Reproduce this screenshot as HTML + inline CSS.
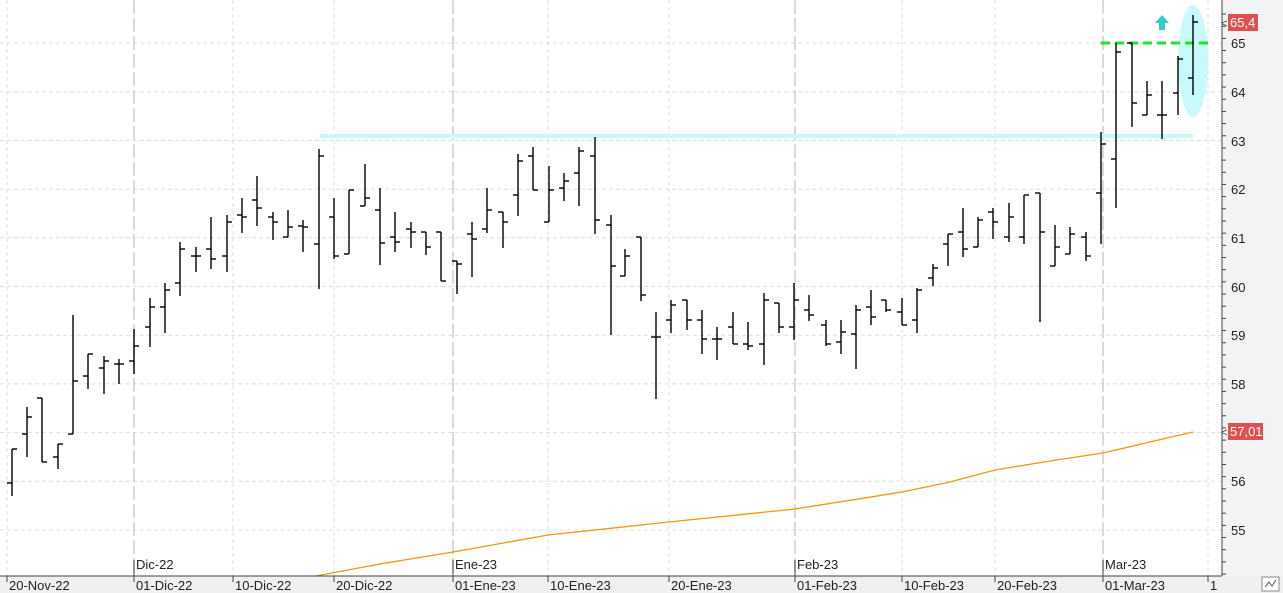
<!DOCTYPE html>
<html><head><meta charset="utf-8"><style>
html,body{margin:0;padding:0;background:#fff;}
svg{display:block;font-family:"Liberation Sans",sans-serif;}
</style></head><body>
<svg id="c" width="1283" height="593" viewBox="0 0 1283 593" xmlns="http://www.w3.org/2000/svg">
<rect x="0" y="0" width="1283" height="593" fill="#fff"/>
<rect x="1222" y="0" width="61" height="593" fill="#f2f3f5"/>
<rect x="0" y="576" width="1283" height="17" fill="#f0f0f0"/>
<g id="grid" stroke="#dcdcdc" stroke-width="1" stroke-dasharray="4,3"></g>
<g stroke="#d0d0d0" stroke-width="1.6" stroke-dasharray="14,4">
<line x1="134" y1="0" x2="134" y2="576"/><line x1="453" y1="0" x2="453" y2="576"/>
<line x1="795" y1="0" x2="795" y2="576"/><line x1="1103" y1="0" x2="1103" y2="576"/>
</g>
<rect x="320" y="134" width="873" height="4" fill="#c8fafc"/>
<ellipse cx="1193" cy="61" rx="15" ry="56" fill="#c8fafc"/>
<line x1="1101" y1="43" x2="1208" y2="43" stroke="#1ee61e" stroke-width="3" stroke-dasharray="9,5"/>
<polygon points="1162,15 1169,23 1165,23 1165,30 1159,30 1159,23 1155,23" fill="#33cccc"/>
<polyline fill="none" stroke="#f5960a" stroke-width="1.3" points="316,576 380,564 453,552 548,535 669,522 795,509 902,492 950,482 995,470 1050,461 1103,453 1150,442 1193,432"/>
<g id="bars" stroke="#000" stroke-width="1.4"></g>
<line x1="1222" y1="0" x2="1222" y2="576" stroke="#444" stroke-width="1"/>
<line x1="0" y1="576" x2="1222" y2="576" stroke="#444" stroke-width="1"/>
<g id="rt" stroke="#444" stroke-width="1"></g>
<g font-size="13" fill="#222">
<text x="1231" y="48">65</text><text x="1231" y="97">64</text><text x="1231" y="146">63</text>
<text x="1231" y="194">62</text><text x="1231" y="243">61</text><text x="1231" y="292">60</text>
<text x="1231" y="340">59</text><text x="1231" y="389">58</text><text x="1231" y="535">55</text>
<text x="1231" y="486">56</text>
</g>
<rect x="1228" y="14" width="30" height="17" fill="#e05050"/>
<text x="1230" y="27" font-size="13" fill="#fff">65,4</text>
<text x="1221" y="27" font-size="11" fill="#444">&lt;</text>
<rect x="1228" y="423" width="35" height="17" fill="#e05050"/>
<text x="1230" y="436" font-size="13" fill="#fff">57,01</text>
<text x="1221" y="436" font-size="11" fill="#444">&lt;</text>
<g font-size="13" fill="#222">
<text x="136" y="569">Dic-22</text><text x="455" y="569">Ene-23</text>
<text x="797" y="569">Feb-23</text><text x="1105" y="569">Mar-23</text>
<text x="9" y="590">20-Nov-22</text><text x="136" y="590">01-Dic-22</text>
<text x="235" y="590">10-Dic-22</text><text x="336" y="590">20-Dic-22</text>
<text x="455" y="590">01-Ene-23</text><text x="550" y="590">10-Ene-23</text>
<text x="671" y="590">20-Ene-23</text><text x="797" y="590">01-Feb-23</text>
<text x="904" y="590">10-Feb-23</text><text x="997" y="590">20-Feb-23</text>
<text x="1105" y="590">01-Mar-23</text><text x="1210" y="590">1</text>
</g>
<g id="bt" stroke="#444" stroke-width="1"></g>
<rect x="1262" y="577" width="17" height="14" fill="#fff" stroke="#888"/>
<polyline points="1265,587 1269,582 1272,586 1276,580" fill="none" stroke="#555"/>
</svg>
<script>
var ns="http://www.w3.org/2000/svg";
function L(g,x1,y1,x2,y2){var l=document.createElementNS(ns,"line");l.setAttribute("x1",x1);l.setAttribute("y1",y1);l.setAttribute("x2",x2);l.setAttribute("y2",y2);document.getElementById(g).appendChild(l);}
for(var p=55;p<=65;p++){var y=43+(65-p)*48.7;L("grid",0,y,1222,y);}
[7,233,334,548,669,902,995,1208].forEach(function(x){L("grid",x,0,x,576);});
for(var k=0;k<=46;k++){var y=14+k*12.175;if(y<576)L("rt",1222,y,1226,y);}
[7,134,233,334,453,548,669,795,902,995,1103,1208].forEach(function(x){L("bt",x,576,x,582);});
L("bt",134,560,134,576);L("bt",453,560,453,576);L("bt",795,560,795,576);L("bt",1103,560,1103,576);
var B=[[12,449,496,483,449],[27,407,457,434,417],[42,398,462,398,462],[58,444,469,457,444],[73,315,434,434,381],[88,354,389,376,354],[104,356,394,368,361],[119,359,384,364,364],[134,329,374,361,346],[150,298,347,327,307],[165,283,333,307,290],[180,242,296,283,249],[196,247,272,256,256],[211,217,269,249,259],[227,215,272,256,222],[242,198,233,215,217],[257,176,226,200,208],[273,212,240,217,222],[288,210,237,237,227],[303,220,252,226,227],[319,149,289,244,156],
[334,198,259,217,256],[349,190,254,254,190],[365,164,206,206,198],[380,188,265,210,243],[395,212,252,237,242],[411,222,248,229,232],[426,232,255,232,247],[441,232,281,232,281],[457,261,294,261,264],[472,222,277,234,239],[487,188,233,229,210],[503,212,248,212,222],[518,154,216,195,161],[533,147,190,156,190],[549,166,222,222,190],[564,173,201,188,181],[579,147,206,173,151],[595,137,234,156,220],[611,215,335,225,266],[625,249,276,276,256],[641,237,301,237,295],
[656,312,399,337,337],[671,300,333,320,305],[687,300,330,300,320],[702,310,354,320,339],[717,327,360,339,339],[733,312,344,327,344],[748,322,350,344,346],[764,293,365,344,300],[779,303,333,303,327],[794,283,340,327,300],[809,295,321,310,315],[826,320,346,325,344],[841,320,354,342,332],[856,305,369,334,310],[871,290,325,307,317],[886,300,312,300,310],[902,298,325,312,325],[917,288,333,320,290],[933,264,286,278,268],[948,234,266,244,234],
[963,208,257,232,249],[978,217,247,247,220],[993,208,239,212,222],[1009,203,242,237,217],[1024,195,244,237,195],[1040,193,322,193,232],[1055,225,266,266,247],[1070,227,254,254,234],[1086,232,261,237,256],[1101,132,244,193,144],[1116,43,208,159,52],[1132,43,127,43,103],[1147,81,115,115,95],[1162,81,139,115,115],[1178,56,115,93,59],[1193,15,95,78,22]];
B.forEach(function(b){L("bars",b[0],b[1],b[0],b[2]);L("bars",b[0]-5,b[3],b[0],b[3]);L("bars",b[0],b[4],b[0]+5,b[4]);});
</script>
</body></html>
